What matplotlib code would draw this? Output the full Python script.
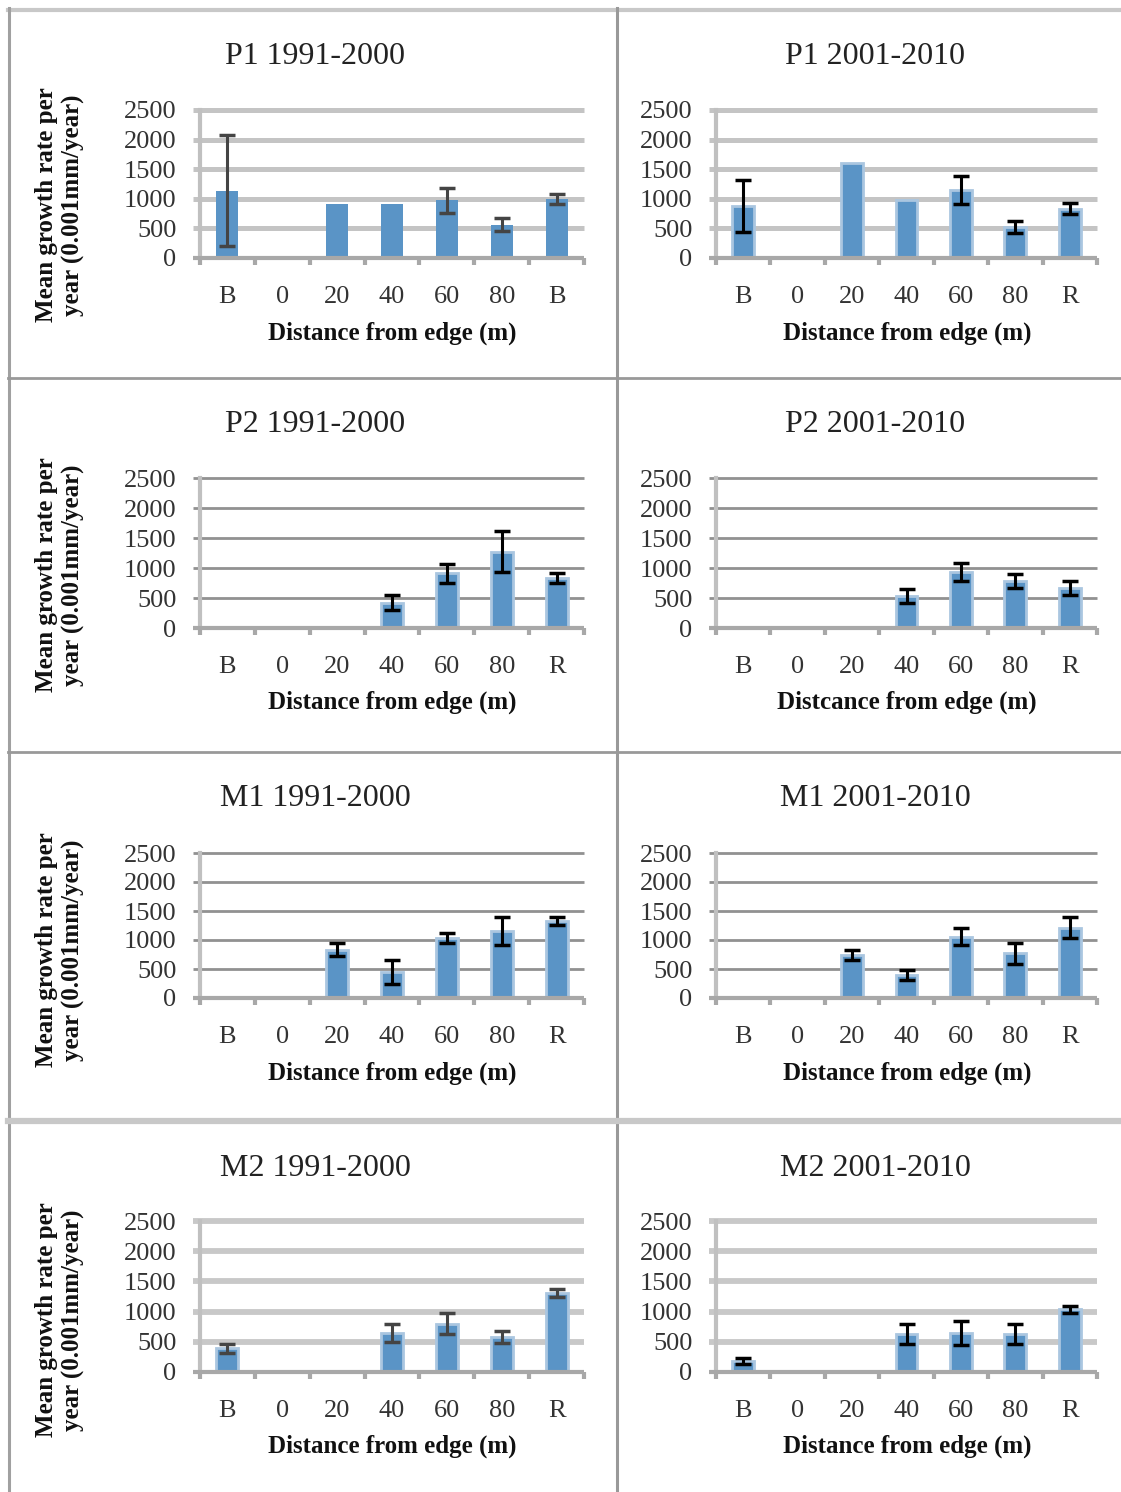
import numpy as np
import matplotlib
matplotlib.use("Agg")
import matplotlib.pyplot as plt
from matplotlib.lines import Line2D

nan = np.nan

cats_a = ['B', '0', '20', '40', '60', '80', 'B']
cats_b = ['B', '0', '20', '40', '60', '80', 'R']

titles = ['P1 1991-2000', 'P1 2001-2010',
          'P2 1991-2000', 'P2 2001-2010',
          'M1 1991-2000', 'M1 2001-2010',
          'M2 1991-2000', 'M2 2001-2010']

xlabels = ['Distance from edge (m)', 'Distance from edge (m)',
           'Distance from edge (m)', 'Distcance from edge (m)',
           'Distance from edge (m)', 'Distance from edge (m)',
           'Distance from edge (m)', 'Distance from edge (m)']

p1_1991 = [1140, nan, 920, 920, 975, 565, 990]
p1_1991_err = [930, nan, nan, nan, 215, 105, 85]
p1_2001 = [880, nan, 1610, 980, 1150, 520, 835]
p1_2001_err = [445, nan, nan, nan, 240, 105, 90]
p2_1991 = [nan, nan, nan, 425, 910, 1270, 835]
p2_1991_err = [nan, nan, nan, 120, 165, 340, 80]
p2_2001 = [nan, nan, nan, 540, 935, 785, 665]
p2_2001_err = [nan, nan, nan, 115, 145, 120, 118]
m1_1991 = [nan, nan, 836, 445, 1040, 1150, 1320]
m1_1991_err = [nan, nan, 118, 210, 86, 240, 69]
m1_2001 = [nan, nan, 740, 400, 1060, 775, 1210]
m1_2001_err = [nan, nan, 90, 89, 146, 181, 178]
m2_1991 = [390, nan, nan, 650, 800, 580, 1310]
m2_1991_err = [73, nan, nan, 150, 174, 104, 70]
m2_2001 = [175, nan, nan, 630, 645, 630, 1040]
m2_2001_err = [50, nan, nan, 166, 194, 166, 56]

values = [p1_1991, p1_2001, p2_1991, p2_2001, m1_1991, m1_2001, m2_1991, m2_2001]
errors = [p1_1991_err, p1_2001_err, p2_1991_err, p2_2001_err,
          m1_1991_err, m1_2001_err, m2_1991_err, m2_2001_err]
yticks = [0, 500, 1000, 1500, 2000, 2500]

W, H = 1121, 1492
fig = plt.figure(figsize=(W / 100, H / 100), dpi=100)
serif = 'Liberation Serif'

rows = [(110, 258), (478, 628), (853, 998), (1221, 1372)]
cols = [(200, 584), (716, 1097)]
title_y = [57, 424, 798, 1168]
xlab_y = [333, 702, 1073, 1446]
ylab_y = [205, 575, 950, 1320]
title_x = [315, 875]
xlab_x = [392, 907]
grid_col = ['#c4c4c4', '#919191', '#919191', '#c8c8c8']
grid_lw = [3.6, 2.0, 2.0, 4.2]
bar_col = '#5a94c6'

for k in range(8):
    r, c = k // 2, k % 2
    t, b = rows[r]
    l, rr = cols[c]
    ax = fig.add_axes([l / W, 1 - b / H, (rr - l) / W, (b - t) / H])
    x = np.arange(7) + 0.5
    v = np.array(values[k], dtype=float)
    e = np.array(errors[k], dtype=float)
    ax.set_xlim(0, 7)
    ax.set_ylim(0, 2500)
    for yv in yticks[1:]:
        ax.plot([-0.13, 7], [yv, yv], color=grid_col[r], lw=grid_lw[r],
                clip_on=False, zorder=1, solid_capstyle='butt')
    edge = 'none' if k == 0 else '#aac6e0'
    ax.bar(x, v, width=0.4, color=bar_col, edgecolor=edge, linewidth=2, zorder=2)
    ecol = '#444444' if k in (0, 6) else 'black'
    ax.errorbar(x, v, yerr=e, fmt='none', ecolor=ecol, elinewidth=2.2,
                capsize=6, capthick=2.5, zorder=3)
    ax.plot([-0.13, 7], [0, 0], color='#a8a8a8', lw=3, clip_on=False, zorder=4,
            solid_capstyle='butt')
    for s in ['top', 'right', 'bottom']:
        ax.spines[s].set_visible(False)
    ax.spines['left'].set_color('#c0c0c0')
    ax.spines['left'].set_linewidth(3)
    ax.set_yticks(yticks)
    ax.set_yticklabels([str(y) for y in yticks], fontfamily=serif, fontsize=19,
                       color='#333333')
    ax.tick_params(axis='y', length=0, pad=17)
    ax.set_xticks(np.arange(8))
    ax.set_xticklabels([])
    ax.tick_params(axis='x', which='major', length=5, width=3, color='#a8a8a8',
                   direction='out')
    ax.set_xticks(x, minor=True)
    ax.set_xticklabels(cats_a if k == 0 else cats_b, minor=True, fontfamily=serif,
                       fontsize=19, color='#333333')
    ax.tick_params(axis='x', which='minor', length=0, pad=20)
    fig.text(title_x[c] / W, 1 - title_y[r] / H, titles[k], ha='center', va='center',
             fontfamily=serif, fontsize=23, color='#222222')
    fig.text(xlab_x[c] / W, 1 - xlab_y[r] / H, xlabels[k], ha='center', va='center',
             fontfamily=serif, fontsize=18, fontweight='bold', color='#111111')
    if c == 0:
        fig.text(60 / W, 1 - ylab_y[r] / H, 'Mean growth rate per\nyear (0.001mm/year)',
                 ha='center', va='center', rotation=90, fontfamily=serif,
                 fontsize=18, fontweight='bold', color='#111111', linespacing=1.15)

# panel borders
def hline(y, x0, x1, col, lw):
    fig.add_artist(Line2D([x0 / W, x1 / W], [1 - y / H, 1 - y / H], color=col, lw=lw))

def vline(x, y0, y1, col, lw):
    fig.add_artist(Line2D([x / W, x / W], [1 - y0 / H, 1 - y1 / H], color=col, lw=lw))

hline(10, 8, W, '#c8c8c8', 3)
vline(9, 8, H, '#a0a0a0', 2.2)
vline(617, 8, H, '#999999', 2.2)
hline(378, 8, W, '#999999', 2)
hline(752, 8, W, '#999999', 2)
hline(1121, 8, W, '#c8c8c8', 4.5)

plt.savefig('out.png', dpi=100)
